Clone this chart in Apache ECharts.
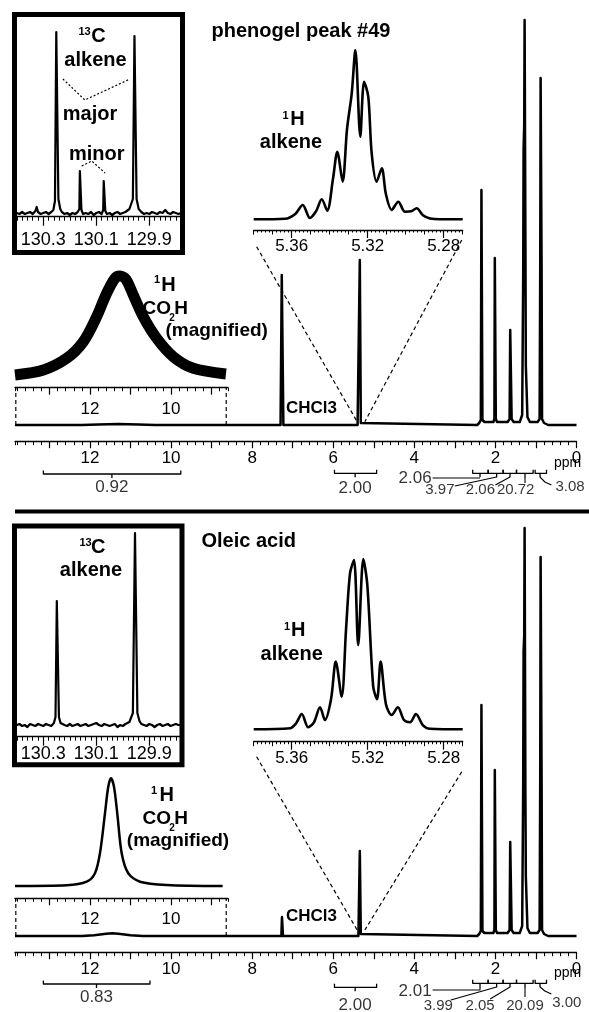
<!DOCTYPE html>
<html>
<head>
<meta charset="utf-8">
<script src="https://cdn.jsdelivr.net/npm/echarts@6.0.0/dist/echarts.min.js"></script>
<style>
  html, body { margin: 0; padding: 0; background: #fff; }
  #chart { width: 589px; height: 1012px; }
</style>
</head>
<body>
<div id="chart"></div>
<script>
// ---- data: [ppm, intensity] ----
const topMainSpectrum = [
  [13.85, 0], [12.2, 0], [11.8, 0.6], [11.3, 1], [10.8, 0.6], [10.4, 0],
  [7.30, 0], [7.27, 150], [7.255, 150], [7.23, 0],
  [5.40, 0], [5.36, 2], [5.345, 165], [5.335, 165], [5.32, 2], [5.28, 0],
  [2.45, 0], [2.40, 2], [2.36, 5], [2.345, 235], [2.335, 235], [2.32, 5], [2.27, 3],
  [2.05, 3], [2.025, 6], [2.015, 167], [2.005, 167], [1.99, 6], [1.96, 3],
  [1.70, 3], [1.65, 6], [1.635, 95], [1.615, 95], [1.60, 6], [1.55, 3],
  [1.40, 3], [1.34, 10], [1.315, 150], [1.305, 277], [1.29, 300], [1.28, 405], [1.27, 405],
  [1.26, 185], [1.25, 60], [1.21, 8], [1.15, 3],
  [0.96, 3], [0.91, 6], [0.895, 155], [0.885, 347], [0.875, 347], [0.86, 150], [0.85, 6],
  [0.80, 2], [0.70, 0], [0, 0]
]
const bottomMainSpectrum = [
  [13.85, 0], [12.2, 0], [11.9, 0.8], [11.6, 2.2], [11.45, 2.7], [11.3, 2.2], [11.0, 0.8], [10.7, 0],
  [7.28, 0], [7.265, 19], [7.255, 19], [7.24, 0],
  [5.38, 0], [5.35, 2], [5.345, 85], [5.335, 85], [5.32, 2], [5.29, 0],
  [2.45, 0], [2.40, 2], [2.36, 5], [2.345, 231], [2.335, 231], [2.32, 5], [2.27, 3],
  [2.05, 3], [2.025, 6], [2.015, 166], [2.005, 166], [1.99, 6], [1.96, 3],
  [1.70, 3], [1.65, 6], [1.635, 94], [1.615, 94], [1.60, 6], [1.55, 3],
  [1.40, 3], [1.34, 10], [1.315, 150], [1.305, 285], [1.29, 300], [1.28, 408], [1.27, 408],
  [1.26, 141], [1.25, 60], [1.21, 8], [1.15, 3],
  [0.96, 3], [0.91, 6], [0.895, 158], [0.885, 379], [0.875, 379], [0.86, 150], [0.85, 6],
  [0.80, 2], [0.70, 0], [0, 0]
]
const topC13Spectrum = [
  [130.40, 0], [130.39, -1], [130.38, 1], [130.37, -1], [130.36, 0], [130.35, 1], [130.34, -1],
  [130.33, 2], [130.325, 6], [130.32, 1], [130.31, -1], [130.30, 0], [130.29, 1], [130.28, -1],
  [130.27, 1], [130.262, 3], [130.256, 12], [130.251, 181], [130.247, 181], [130.243, 14],
  [130.236, 4], [130.23, 1], [130.22, -1], [130.21, 0], [130.20, -2], [130.19, 0], [130.18, -1],
  [130.17, 1], [130.164, 4], [130.162, 42], [130.159, 42], [130.156, 3], [130.15, -1],
  [130.14, 0], [130.13, -1], [130.12, 1], [130.11, -2], [130.10, 0], [130.09, 1], [130.08, -1],
  [130.074, 3], [130.072, 32], [130.069, 32], [130.066, 2], [130.06, -1], [130.05, 0],
  [130.04, -2], [130.03, 0], [130.02, 1], [130.01, -1], [130.00, 0], [129.99, 1], [129.975, 4],
  [129.962, 14], [129.956, 177], [129.952, 177], [129.948, 14], [129.94, 4], [129.93, 1],
  [129.92, -1], [129.91, 0], [129.90, -1], [129.89, 1], [129.88, 0], [129.87, -1], [129.86, 1],
  [129.85, 0], [129.84, 3], [129.83, 0], [129.82, -1], [129.81, 1], [129.80, 0], [129.79, -1], [129.78, 0]
]
const bottomC13Spectrum = [
  [130.40, 0], [130.39, 1], [130.38, -1], [130.37, 0], [130.36, -2], [130.35, 1], [130.34, 0],
  [130.33, -1], [130.32, 1], [130.31, 0], [130.30, -1], [130.29, 1], [130.28, 0], [130.27, -1],
  [130.26, 2], [130.254, 8], [130.249, 124], [130.245, 124], [130.241, 8], [130.235, 2],
  [130.22, 0], [130.21, -1], [130.20, 1], [130.19, -1], [130.18, 0], [130.17, 1], [130.16, -1],
  [130.15, 0], [130.14, 1], [130.13, -1], [130.12, 0], [130.11, 1], [130.10, 2], [130.09, 0],
  [130.08, -1], [130.07, 1], [130.06, 0], [130.05, -1], [130.04, 0], [130.03, 1], [130.02, -2],
  [130.01, 0], [130.00, -1], [129.99, 1], [129.975, 3], [129.962, 12], [129.954, 192],
  [129.950, 192], [129.945, 12], [129.937, 4], [129.93, 1], [129.92, 0], [129.91, -1],
  [129.90, 1], [129.89, 0], [129.88, -2], [129.87, 0], [129.86, 1], [129.85, -1], [129.84, 0],
  [129.83, 1], [129.82, -1], [129.81, 0], [129.80, 1], [129.79, 0], [129.78, 0]
]
const topAlkeneSpectrum = [
  [5.38, 0], [5.3635, 0.5], [5.3583, 5], [5.3542, 14.3], [5.3504, 1.3], [5.3472, 8], [5.3442, 20],
  [5.3413, 8.6], [5.3383, 40], [5.336, 67.6], [5.3332, 37.6], [5.3309, 90], [5.3284, 126],
  [5.3265, 169.3], [5.3239, 82.6], [5.3219, 137.6], [5.3197, 122.6], [5.3179, 66], [5.3153, 37.6],
  [5.3126, 51], [5.3104, 25], [5.3074, 9.3], [5.3039, 17.6], [5.3004, 7.6], [5.2972, 8],
  [5.2942, 11], [5.2909, 4], [5.2872, 0.8], [5.2819, 0], [5.27, 0]
]
const bottomAlkeneSpectrum = [
  [5.38, 0], [5.3609, 1], [5.3577, 6], [5.3547, 15.3], [5.3513, 2], [5.3483, 7], [5.3451, 22],
  [5.3425, 9.3], [5.3393, 30], [5.3368, 67.7], [5.3337, 32.6], [5.3314, 100], [5.3293, 156],
  [5.3272, 169.3], [5.325, 84.3], [5.3223, 170.3], [5.3202, 144.3], [5.3171, 42.6], [5.3151, 30],
  [5.3132, 67.7], [5.3104, 25], [5.3074, 14.3], [5.3041, 22], [5.3009, 9.3], [5.2977, 7],
  [5.2946, 15.3], [5.2909, 4], [5.2872, 0.5], [5.27, 0]
]
const topCO2HSpectrum = [
  [13.85, 0], [13.15, 5], [12.575, 16.7], [12.165, 33.3], [11.835, 58.3], [11.59, 81.7],
  [11.384, 96.7], [11.26, 99], [11.112, 95.7], [10.932, 80], [10.686, 58.3], [10.355, 36.7],
  [9.946, 18.3], [9.452, 6.7], [8.646, 1]
]
const bottomCO2HSpectrum = [
  [13.85, 0], [12.575, 0.7], [12.08, 4.3], [11.877, 12.7], [11.754, 32.7], [11.63, 72.7],
  [11.549, 99.3], [11.482, 107.7], [11.408, 99.3], [11.327, 72.7], [11.218, 32.7],
  [11.056, 12.7], [10.767, 4.3], [10.108, 1], [8.727, 0]
]

// integral regions [from, to, centre] in ppm and their values
const topIntegralRegions = [[13.15, 9.76, 11.46], [5.97, 4.93, 5.46], [2.56, 2.18, 2.38], [2.18, 1.81, 1.97], [1.81, 1.48, 1.64], [1.48, 1.07, 1.27], [1.02, 0.74, 0.90]]
const topIntegralValues = ['0.92', '2.00', '2.06', '3.97', '2.06', '20.72', '3.08']
const bottomIntegralRegions = [[13.15, 10.52, 11.84], [5.97, 4.93, 5.46], [2.56, 2.18, 2.38], [2.18, 1.81, 1.97], [1.81, 1.48, 1.64], [1.48, 1.07, 1.27], [1.02, 0.74, 0.90]]
const bottomIntegralValues = ['0.83', '2.00', '2.01', '3.99', '2.05', '20.09', '3.00']

// tick labels
const mainTickLabels = [0, 2, 4, 6, 8, 10, 12]
const mainMajorTicks = [0, 1, 2, 3, 4, 5, 6, 7, 8, 9, 10, 11, 12, 13]
const c13TickLabels = [130.3, 130.1, 129.9]
const alkeneTickLabels = [5.36, 5.32, 5.28]
const co2hTickLabels = [12, 10]
const co2hMajorTicks = [9, 10, 11, 12, 13]

// ---- layout ----
const FONT = '"Liberation Sans", Arial, Helvetica, sans-serif'
const grids = []
const xAxes = []
const yAxes = []
const series = []
const graphics = []

function addGrid (rect, xr, yr, t) {
  grids.push(Object.assign({ show: false }, rect))
  const gi = grids.length - 1
  const showAxis = !!t
  xAxes.push({
    gridIndex: gi, type: 'value', inverse: true, position: 'bottom', min: xr[0], max: xr[1],
    interval: t ? t.step : undefined,
    axisLine: { show: showAxis, onZero: false, lineStyle: { color: '#000', width: 1.4 } },
    axisTick: { show: showAxis, length: t ? t.minorLen : 0, lineStyle: { color: '#000', width: 1 } },
    minorTick: t && t.minorSplit ? { show: true, splitNumber: t.minorSplit, length: t.minorLen2, lineStyle: { color: '#000', width: 1 } } : { show: false },
    axisLabel: { show: false }, splitLine: { show: false }
  })
  const xi = xAxes.length - 1
  if (t) {
    xAxes.push({
      gridIndex: gi, type: 'value', inverse: true, position: 'bottom', min: xr[0], max: xr[1],
      axisLine: { show: false, onZero: false },
      axisTick: { show: true, customValues: t.major, length: t.majorLen, lineStyle: { color: '#000', width: 1.2 } },
      axisLabel: {
        show: true, customValues: t.labels, margin: t.margin, fontSize: t.fontSize,
        fontFamily: FONT, color: '#000', formatter: (v) => Number(v).toFixed(t.digits)
      },
      splitLine: { show: false }
    })
  }
  yAxes.push({ gridIndex: gi, type: 'value', show: false, min: yr[0], max: yr[1], splitLine: { show: false } })
  return { xi, yi: yAxes.length - 1 }
}

function line (ax, data, style, extra) {
  series.push(Object.assign({
    type: 'line', xAxisIndex: ax.xi, yAxisIndex: ax.yi, data, symbol: 'none', clip: false,
    silent: true, animation: false,
    lineStyle: Object.assign({ color: '#000', width: 2.5, join: 'round' }, style)
  }, extra))
}

function text (x, y, str, size, bold, align) {
  graphics.push({
    type: 'text', x, y, silent: true,
    style: {
      text: str, fill: '#000', fontSize: size, fontWeight: bold ? 'bold' : 'normal',
      fontFamily: FONT, align: align || 'center', verticalAlign: 'middle'
    }
  })
}

const thin = { width: 1.3 }
const dashed = { width: 1.2, type: [4, 3] }
const dotted = { width: 1.2, type: [2, 2] }

function panel (p) {
  const top = p.top
  // main spectrum
  const main = addGrid({ left: 15, top: top.mainTop, width: 561.5, height: 421.7 }, [0, 13.85], [-16.7, 405],
    { step: 0.2, minorLen: 3.5, major: mainMajorTicks, majorLen: 6.5, labels: mainTickLabels, margin: 8, fontSize: 17, digits: 0 })
  line(main, p.main, { width: 2.5 })

  // CO2H magnified inset
  const co = addGrid({ left: 15, top: top.coTop, width: 212.8, height: top.coH }, [8.6, 13.85], [top.coMin, top.coMax],
    { step: 0.2, minorLen: 3.5, major: co2hMajorTicks, majorLen: 7, labels: co2hTickLabels, margin: 13, fontSize: 17, digits: 0 })
  line(co, p.co2h, { width: p.coWidth, cap: 'butt' }, { smooth: 0.3 })

  // 13C box
  addGrid(top.box, [0, 1], [0, 1], null)
  Object.assign(grids[grids.length - 1], { show: true, borderWidth: 5, borderColor: '#000', backgroundColor: 'transparent' })
  const c13 = addGrid({ left: 16.8, top: top.c13Top, width: 164.3, height: top.c13H }, [129.78, 130.40], [top.c13Min, 185],
    { step: 0.02, minorLen: 4, major: c13TickLabels, majorLen: 9, labels: c13TickLabels, margin: top.c13Margin, fontSize: 18, digits: 1 })
  line(c13, p.c13, { width: 2.2 })

  // 1H alkene inset
  const alk = addGrid({ left: 253.7, top: top.alkTop, width: 209, height: top.alkH }, [5.27, 5.38], [top.alkMin, 170],
    { step: 0.01, minorLen: 4.5, minorSplit: 5, minorLen2: 2.5, major: alkeneTickLabels, majorLen: 8, labels: alkeneTickLabels, margin: 8, fontSize: 17, digits: 2 })
  line(alk, p.alkene, { width: 2.6 }, { smooth: 0.3 })

  // connectors
  line(main, [[7.89, p.conn[0]], [5.41, p.conn[1]]], dashed)
  line(main, [[2.83, p.conn[2]], [5.22, p.conn[1]]], dashed)
  line(main, [[13.83, 0], [13.83, p.coDrop]], dashed)
  line(main, [[8.64, 0], [8.64, p.coDrop]], dashed)

  // integrals
  p.regions.forEach(([from, to, mid], i) => {
    const y = p.levels[i]
    line(main, [[from, y + 3.5], [from, y], [to, y], [to, y + 3.5]], thin)
    line(main, [[mid, y], [mid, y - 4]], thin)
  })
  p.leaders.forEach((d) => line(main, d, { width: 1.1 }))
  series.push({
    type: 'scatter', xAxisIndex: main.xi, yAxisIndex: main.yi, symbolSize: 1, clip: false, silent: true,
    itemStyle: { color: 'rgba(0,0,0,0)' },
    data: p.values.map((v, i) => ({
      name: v, value: p.labelPos[i],
      label: { fontSize: p.labelSize[i] }
    })),
    label: { show: true, position: 'inside', formatter: '{b}', fontFamily: FONT, color: '#000' }
  })
  return { main, c13 }
}

const topPanel = panel({
  top: {
    mainTop: 20, coTop: 275, coH: 112.7, coMin: -12.7, coMax: 100,
    box: { left: 14.5, top: 14.5, width: 168, height: 238 },
    c13Top: 28, c13H: 188.7, c13Min: -3.7, c13Margin: 14,
    alkTop: 49.3, alkH: 180.7, alkMin: -10.7
  },
  main: topMainSpectrum, co2h: topCO2HSpectrum, c13: topC13Spectrum, alkene: topAlkeneSpectrum,
  coWidth: 11, coDrop: 37.3, conn: [178.3, 3.3, 185],
  regions: topIntegralRegions, values: topIntegralValues,
  levels: [-49, -48.3, -48.3, -48.3, -48.3, -48.3, -48.3],
  labelPos: [[11.46, -62], [5.46, -63], [3.98, -53], [3.37, -65], [2.37, -65], [1.50, -65], [0.16, -62]],
  labelSize: [17, 17, 17, 15, 15, 15, 15],
  leaders: [
    [[3.55, -53], [2.38, -53]],
    [[3.0, -61], [1.97, -52]],
    [[2.0, -60], [1.64, -52]],
    [[1.27, -52], [1.27, -58]],
    [[0.90, -52], [0.78, -57], [0.62, -60]]
  ]
})

const bottomPanel = panel({
  top: {
    mainTop: 531, coTop: 778, coH: 120.3, coMin: -12.3, coMax: 108,
    box: { left: 14.5, top: 526, width: 167.5, height: 238.7 },
    c13Top: 540, c13H: 196.7, c13Min: -11.7, c13Margin: 8,
    alkTop: 559.3, alkH: 182.4, alkMin: -12.4
  },
  main: bottomMainSpectrum, co2h: bottomCO2HSpectrum, c13: bottomC13Spectrum, alkene: bottomAlkeneSpectrum,
  coWidth: 2.5, coDrop: 37.7, conn: [179.3, 6, 164.3],
  regions: bottomIntegralRegions, values: bottomIntegralValues,
  levels: [-48, -51.3, -47.3, -47.3, -47.3, -47.3, -47.3],
  labelPos: [[11.84, -61.3], [5.46, -69], [3.98, -55.7], [3.41, -70], [2.38, -70], [1.27, -70], [0.24, -67.3]],
  labelSize: [17, 17, 17, 15, 15, 15, 15],
  leaders: [
    [[3.55, -54], [2.38, -54], [2.38, -51]],
    [[3.1, -64], [1.97, -51]],
    [[2.13, -63], [1.64, -51]],
    [[1.27, -51], [1.27, -61]],
    [[0.90, -51], [0.78, -55], [0.62, -58]]
  ]
})

// 13C major / minor markers (top inset)
line(topPanel.c13, [[130.226, 134], [130.143, 113], [129.973, 134]], dotted)
line(topPanel.c13, [[130.155, 47], [130.117, 52], [130.067, 40]], dotted)

// ---- text ----
text(301, 31, 'phenogel peak #49', 20, true)
text(84.5, 31.5, '13', 11, true); text(98.5, 36, 'C', 20, true)
text(95.5, 60, 'alkene', 20, true)
text(90, 114, 'major', 20, true)
text(96.7, 154, 'minor', 20, true)
text(285.5, 115.5, '1', 11, true); text(297.5, 119, 'H', 20, true)
text(291, 142, 'alkene', 20, true)
text(157, 280, '1', 11, true); text(168.5, 285, 'H', 20, true)
text(156.7, 308.5, 'CO', 19, true); text(172, 318, '2', 10, true); text(181, 308.5, 'H', 19, true)
text(216.7, 331, '(magnified)', 19, true)
text(286, 408.3, 'CHCl3', 17, true, 'left')
text(567.5, 463, 'ppm', 14, false)

text(248.7, 541, 'Oleic acid', 20, true)
text(85.5, 543, '13', 11, true); text(98.3, 547, 'C', 20, true)
text(91, 570.5, 'alkene', 20, true)
text(287, 626.5, '1', 11, true); text(298.3, 630, 'H', 20, true)
text(291.7, 654, 'alkene', 20, true)
text(154, 790.5, '1', 11, true); text(166.7, 795, 'H', 20, true)
text(156.7, 818.3, 'CO', 19, true); text(172, 828, '2', 10, true); text(181, 818.3, 'H', 19, true)
text(178, 841, '(magnified)', 19, true)
text(286, 916.5, 'CHCl3', 17, true, 'left')
text(567.5, 973, 'ppm', 14, false)

graphics.push({ type: 'rect', silent: true, shape: { x: 15, y: 509.5, width: 574, height: 4 }, style: { fill: '#000' } })

const chart = echarts.init(document.getElementById('chart'))
chart.setOption({
  animation: false,
  backgroundColor: '#fff',
  grid: grids,
  xAxis: xAxes,
  yAxis: yAxes,
  series,
  graphic: { elements: graphics }
})
</script>
</body>
</html>
